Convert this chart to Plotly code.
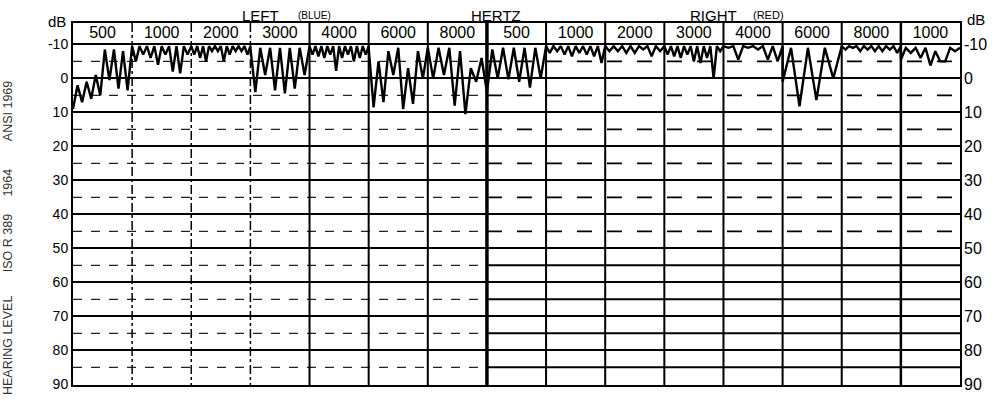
import plotly.graph_objects as go

# ---------------- data ----------------
left_freqs = ["500", "1000", "2000", "3000", "4000", "6000", "8000"]
right_freqs = ["500", "1000", "2000", "3000", "4000", "6000", "8000", "1000"]
db_ticks = [-10, 0, 10, 20, 30, 40, 50, 60, 70, 80, 90]

# Bekesy tracing turning points (dB HL) per frequency section
L500 = [9, 2, 7, 1, 6, -1, 5, -8.5, 0.5, -8.5, 3, -8, 3.5, -9]
L1000 = [-9.5, -5, -9.5, -7, -9.5, -6, -9.5, -4, -9.5, -7, -9.5, -2, -9.5, -1.5, -9.5, -7, -9.5]
L2000 = [-9.5, -7, -9.5, -6, -9.5, -5, -9.5, -8, -9.5, -8, -9.5, -5, -9.5, -7, -9.5, -8, -9.5, -8, -9.5, -7, -9.5]
L3000 = [-9, 4, -9, -1, -9, 3.5, -9, 4.4, -9, 3, -9, -1, -9]
L4000 = [-9.5, -7, -9.5, -6.5, -9.5, -6, -9.5, -7, -9.5, -2.2, -9.5, -6, -9.5, -7, -9.5, -5, -9.5, -6, -9.5, -7, -9.5]
L6000 = [-9, 8.5, -5, 7, -8, -1, -9, 9, -3, 7.5, -8, 0, -9]
L8000 = [-9, 0, -9, -1, -9, 8, -8, 10.5, -3, 1, -6, 4]

R500 = [4, -8.5, 0, -9, 0.3, -9, 1, -9, 2.7, -9, 0, -9]
R1000 = [-9.5, -7.5, -9.5, -8, -9.5, -7, -9.5, -6.5, -9.5, -7.5, -9.5, -7, -9.5, -6.5, -9.5, -4.5, -9.5]
R2000 = [-9.5, -8, -9.5, -8, -9.5, -7.5, -9.5, -7.5, -9.5, -8.5, -9.5, -6.5, -9.5, -8, -9.5]
R3000 = [-9.5, -7, -9.5, -6.5, -9.5, -6, -9.5, -7, -9.5, -5, -9.5, -4.5, -9.5, -6, -9.5, 0, -9.5, -8, -9.5]
R4000 = [-9.5, -9, -9.5, -5.5, -9.5, -9, -9.5, -8.5, -9.5, -5.5, -9.5, -5, -9.5]
R6000 = [1, -9, 8.2, -9, 6.4, -9, 0, -9]
R8000 = [-9.5, -8.5, -9.5, -9, -9.5, -8, -9.5, -8.5, -9.5, -8, -9.5, -8, -9.5, -8.5, -9.5, -7.5, -9.5]
R1000_retest = [-5.5, -9, -7.5, -9, -6, -9, -3.8, -8, -5, -5, -9, -8, -9]

left_tracing = [L500, L1000, L2000, L3000, L4000, L6000, L8000]
right_tracing = [R500, R1000, R2000, R3000, R4000, R6000, R8000, R1000_retest]

# ---------------- build ----------------
FONT = "Liberation Sans, Arial, Helvetica, sans-serif"
W, H = 995, 401
ML, MR, MT, MB = 73, 33, 23, 8
YTOP, YBOT = -16.3, 90.2
n_sections = len(left_freqs) + len(right_freqs)


def section_xy(sections, offset):
    xs, ys = [], []
    for i, levels in enumerate(sections):
        n = len(levels)
        for k, v in enumerate(levels):
            xs.append(offset + i + k / (n - 1))
            ys.append(v)
    return xs, ys


lx, ly = section_xy(left_tracing, 0)
rx, ry = section_xy(right_tracing, len(left_freqs))

fig = go.Figure()
fig.add_trace(go.Scatter(x=lx, y=ly, mode="lines", name="LEFT (BLUE)",
                         line=dict(color="black", width=2.4), showlegend=False,
                         hoverinfo="skip"))
fig.add_trace(go.Scatter(x=rx, y=ry, mode="lines", name="RIGHT (RED)",
                         line=dict(color="black", width=2.4), showlegend=False,
                         hoverinfo="skip"))

header_labels = left_freqs + right_freqs
fig.add_trace(go.Scatter(
    x=[i + 0.5 for i in range(n_sections)],
    y=[(YTOP + db_ticks[0]) / 2] * n_sections,
    mode="text", text=header_labels,
    textfont=dict(family=FONT, size=16, color="black"),
    showlegend=False, hoverinfo="skip", yaxis="y2", cliponaxis=False))

shapes = []
# vertical section boundaries
for b in range(1, n_sections):
    if b <= 3:
        dash, w = "dashdot", 1.5
    else:
        dash, w = "solid", 2
    if b == len(left_freqs):
        w = 3.5
    if b == n_sections - 1:
        w = 2.5
    shapes.append(dict(type="line", xref="x", yref="y", x0=b, x1=b, y0=YTOP, y1=YBOT,
                       line=dict(color="black", width=w, dash=dash), layer="above"))
# 5 dB intermediate lines
for v in range(-5, 90, 10):
    shapes.append(dict(type="line", xref="x", yref="y", x0=0, x1=len(left_freqs), y0=v, y1=v,
                       line=dict(color="#222", width=1.3, dash="dash"), layer="below"))
    if v < 50:
        rd, rw = "longdash", 1.6
    else:
        rd, rw = "solid", 2
    shapes.append(dict(type="line", xref="x", yref="y", x0=len(left_freqs), x1=n_sections, y0=v, y1=v,
                       line=dict(color="black", width=rw, dash=rd), layer="below"))


def px(xp):
    return (xp - ML) / (W - ML - MR)


def py(yp):
    return (H - MB - yp) / (H - MT - MB)


annotations = []


def add_text(text, xp, yp, size, angle=0, color="black"):
    annotations.append(dict(text=text, xref="paper", yref="paper", x=px(xp), y=py(yp),
                            xanchor="center", yanchor="middle", showarrow=False,
                            textangle=angle, font=dict(family=FONT, size=size, color=color)))


add_text("dB", 57, 21, 15)
add_text("dB", 978, 19, 15)
add_text("LEFT", 261, 15, 15)
add_text("(BLUE)", 315, 15, 10)
add_text("HERTZ", 497, 15, 15)
add_text("RIGHT", 715, 15, 15)
add_text("(RED)", 770, 15, 11)
add_text("HEARING LEVEL", 8, 353, 12.5, -90, "#333")
add_text("ISO R 389", 8, 248, 12.5, -90, "#333")
add_text("1964", 8, 186, 12.5, -90, "#333")
add_text("ANSI 1969", 8, 113, 12.5, -90, "#333")

fig.update_layout(
    width=W, height=H,
    margin=dict(l=ML, r=MR, t=MT, b=MB, pad=0),
    paper_bgcolor="white", plot_bgcolor="white",
    font=dict(family=FONT, color="black"),
    shapes=shapes, annotations=annotations,
    xaxis=dict(range=[0, n_sections], showgrid=False, zeroline=False, showticklabels=False,
               showline=True, mirror=True, linewidth=2, linecolor="black", ticks=""),
    yaxis=dict(range=[YBOT, YTOP], tickvals=db_ticks, ticktext=[str(v) for v in db_ticks],
               tickfont=dict(family=FONT, size=14, color="black"),
               showgrid=True, gridcolor="black", gridwidth=2, zeroline=False,
               showline=True, mirror=True, linewidth=2, linecolor="black", ticks=""),
    yaxis2=dict(range=[YBOT, YTOP], overlaying="y", side="right", tickvals=db_ticks,
                ticktext=[str(v) for v in db_ticks], ticklabelstandoff=3,
                tickfont=dict(family=FONT, size=16, color="black"),
                showgrid=False, zeroline=False, showline=False, ticks=""),
)

fig.write_html("out.html", config={"displayModeBar": False},
               post_script="document.body.style.margin='0';document.body.style.overflow='hidden';")
